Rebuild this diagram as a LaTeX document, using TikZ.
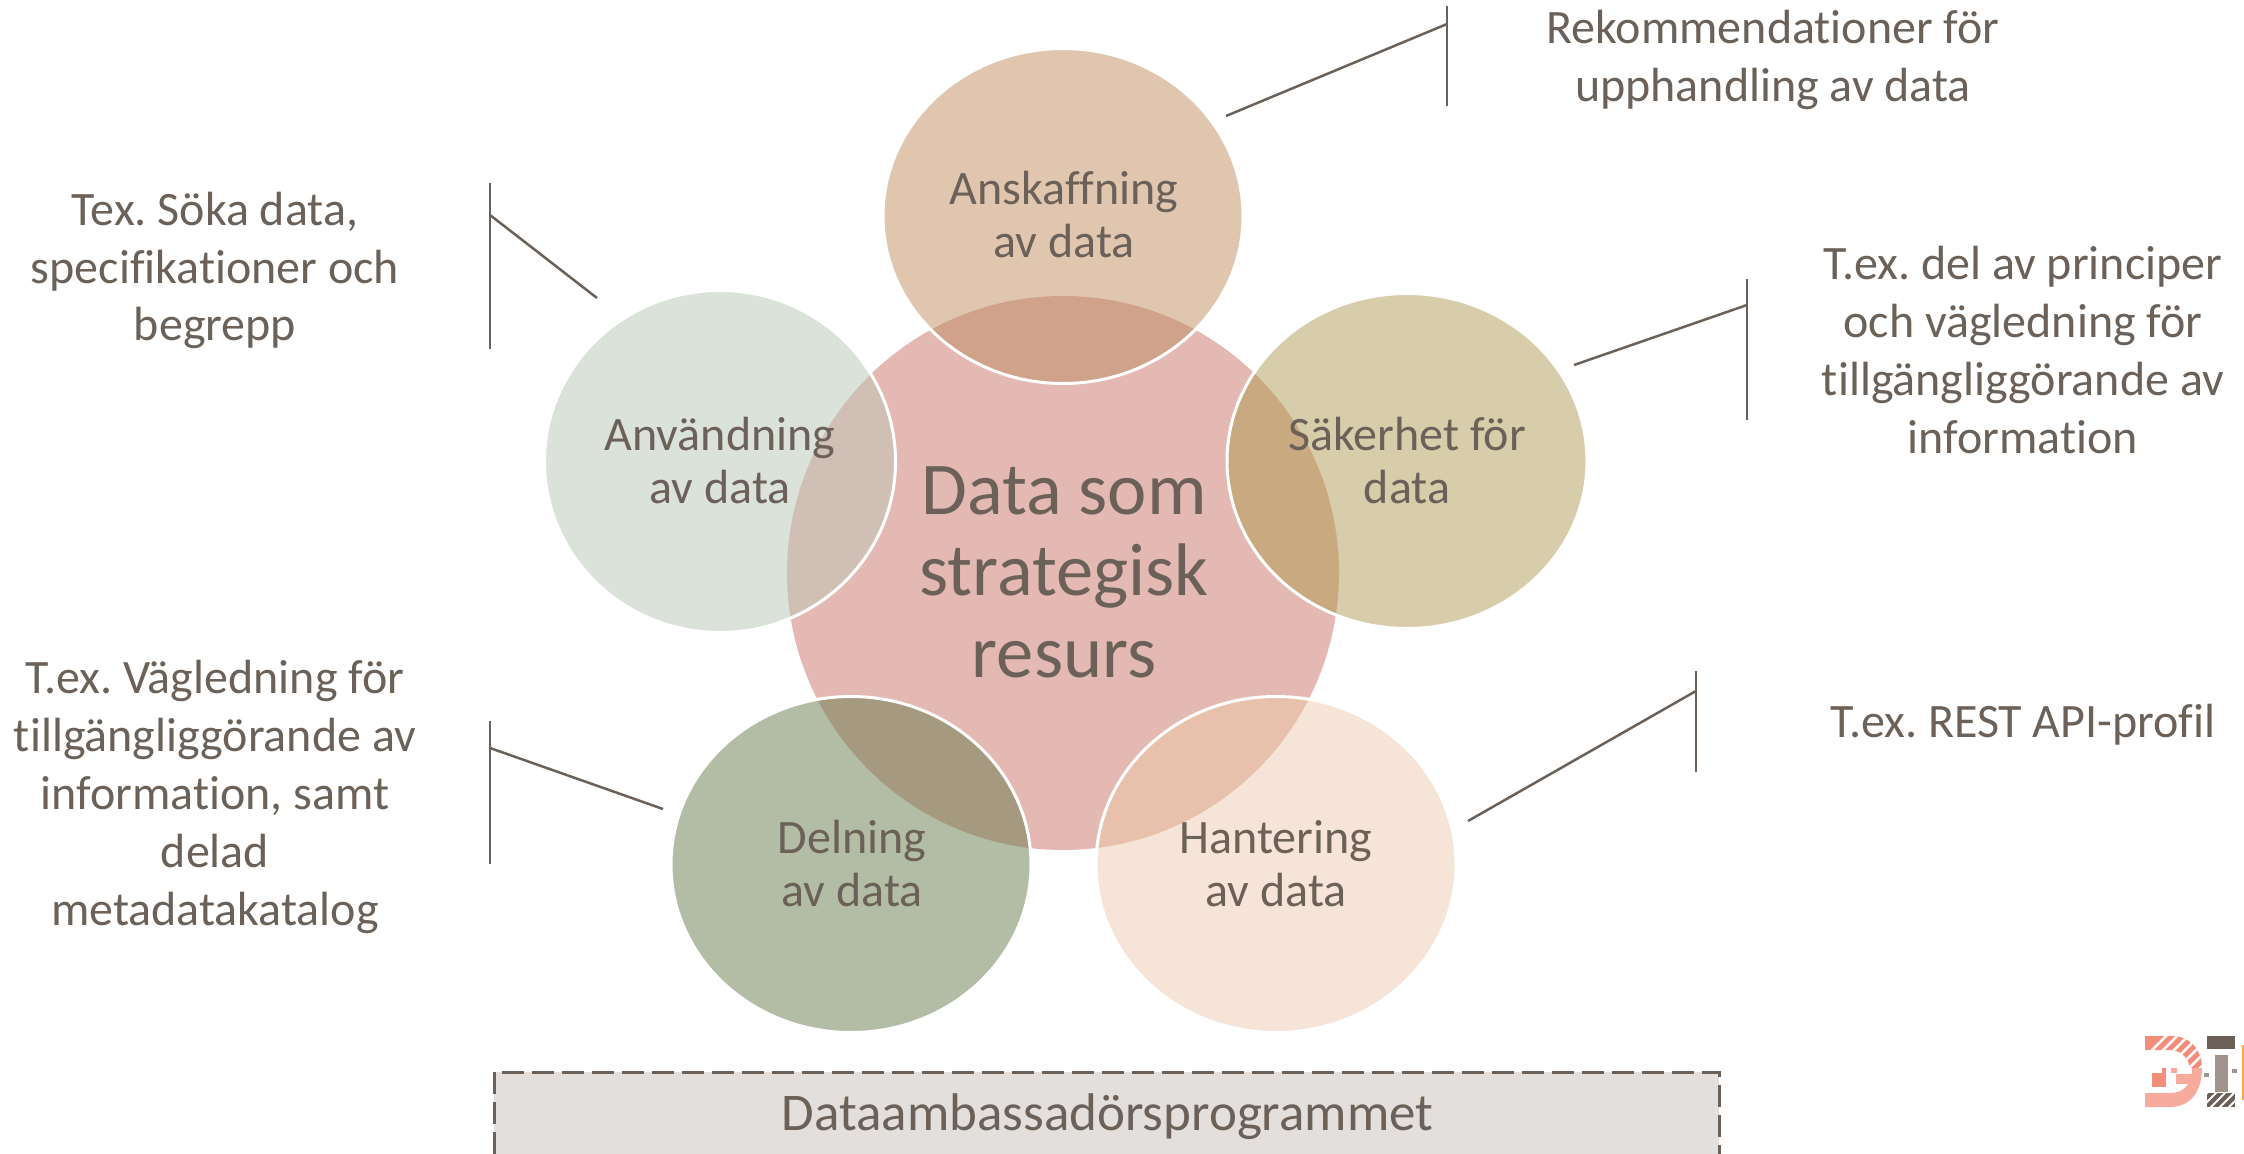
\documentclass[tikz,border=0pt]{standalone}
\usepackage{fontspec}
\setmainfont{Carlito}[Ligatures=NoCommon]
\frenchspacing
\definecolor{ink}{HTML}{6B6158}
\definecolor{core}{HTML}{E5B9B3}
\definecolor{boxfill}{HTML}{E2DFDC}
\tikzset{
  lab/.style={text=ink,align=center,inner sep=0pt,font=\fontsize{48}{57.8}\selectfont},
  petallab/.style={text=ink,align=center,inner sep=0pt,font=\fontsize{48}{53}\selectfont},
  corelab/.style={text=ink,align=center,inner sep=0pt,font=\fontsize{74.5}{81.5}\selectfont},
  proglab/.style={text=ink,align=center,inner sep=0pt,font=\fontsize{53}{60}\selectfont},
  lead/.style={draw=ink,line width=2.5pt},
}
\newcommand{\petalshape}[7]{%
  \fill[fill=#6] (#2,#3) ellipse [x radius=#4,y radius=#5];
  \begin{scope}
    \clip (1063,573) ellipse [x radius=276,y radius=277];
    \fill[fill=#7] (#2,#3) ellipse [x radius=#4,y radius=#5];
  \end{scope}
  \draw[white,line width=3pt] (#2,#3) ellipse [x radius=#4,y radius=#5];
  \coordinate (#1) at (#2,#3);
}
\begin{document}
\begin{tikzpicture}[x=1pt,y=-1pt]
\useasboundingbox (0,0) rectangle (2244,1154);
\definecolor{pa}{HTML}{E0C6AF}\definecolor{pao}{HTML}{D0A28A}
\definecolor{pb}{HTML}{DBE2DA}\definecolor{pbo}{HTML}{CFBFB4}
\definecolor{pc}{HTML}{D7CDAA}\definecolor{pco}{HTML}{C9AA80}
\definecolor{pd}{HTML}{B3BDA6}\definecolor{pdo}{HTML}{A59A80}
\definecolor{pe}{HTML}{F5E4D7}\definecolor{peo}{HTML}{E8C1AC}
% centre
\fill[core] (1063,573) ellipse [x radius=276,y radius=277];
\petalshape{pA}{1063}{216}{180}{167.5}{pa}{pao}
\petalshape{pB}{720}{461.5}{175.5}{171}{pb}{pbo}
\petalshape{pC}{1407}{461}{180}{167.5}{pc}{pco}
\petalshape{pD}{851}{864.5}{180}{168}{pd}{pdo}
\petalshape{pE}{1276}{864.5}{180}{168}{pe}{peo}
\node[corelab] (core) at (1064,572) {Data som\\strategisk\\resurs};
\node[petallab] (anskaffning) at (1064,214.5) {Anskaffning\\av data};
\node[petallab] (anvandning) at (720,460.5) {Användning\\av data};
\node[petallab] (sakerhet) at (1407,460.5) {Säkerhet för\\data};
\node[petallab] (delning) at (852,863.5) {Delning\\av data};
\node[petallab] (hantering) at (1276,863.5) {Hantering\\av data};
% side labels
\node[lab] (t1) at (1773,60) {Rekommendationer för\\upphandling av data};
\node[lab] (t2) at (215,270.5) {Tex. Söka data,\\specifikationer och\\begrepp};
\node[lab] (t3) at (2023,350) {T.ex. del av principer\\och vägledning för\\tillgängliggörande av\\information};
\node[lab] (t4) at (215,797) {T.ex. Vägledning för\\tillgängliggörande av\\information, samt\\delad\\metadatakatalog};
\node[lab] (t5) at (2023,725) {T.ex. REST API-profil};
% leaders
\coordinate (a1) at (1226,116); \coordinate (a2) at (1447,24); \coordinate (a3) at (1447,6); \coordinate (a4) at (1447,106);
\draw[lead] (a1) -- (a2); \draw[lead] (a3) -- (a4);
\coordinate (b1) at (597,298); \coordinate (b2) at (490,215); \coordinate (b3) at (490,183); \coordinate (b4) at (490,349);
\draw[lead] (b1) -- (b2); \draw[lead] (b3) -- (b4);
\coordinate (c1) at (1574,365); \coordinate (c2) at (1747,305); \coordinate (c3) at (1747,279); \coordinate (c4) at (1747,420);
\draw[lead] (c1) -- (c2); \draw[lead] (c3) -- (c4);
\coordinate (d1) at (663,809); \coordinate (d2) at (490,748); \coordinate (d3) at (490,721); \coordinate (d4) at (490,864);
\draw[lead] (d1) -- (d2); \draw[lead] (d3) -- (d4);
\coordinate (e1) at (1468,821); \coordinate (e2) at (1696,691); \coordinate (e3) at (1696,671); \coordinate (e4) at (1696,772);
\draw[lead] (e1) -- (e2); \draw[lead] (e3) -- (e4);
% programme box
\fill[boxfill] (494,1072) rectangle (1719,1160);
\draw[ink,line width=3pt,dash pattern=on 22pt off 8pt] (494,1154) -- (494,1072) -- (1719,1072) -- (1719,1154);
\node[proglab] (prog) at (1107.5,1117) {Dataambassadörsprogrammet};
% logo
\definecolor{lgA}{HTML}{F7AB9D}\definecolor{lgB}{HTML}{F58D7C}\definecolor{lgC}{HTML}{6B5F57}\definecolor{lgD}{HTML}{A0938D}
\begin{scope}
  \clip (2145,1036) -- (2172,1036) .. controls (2190,1036) and (2202,1050) .. (2202,1068) -- (2190,1068) .. controls (2188,1057) and (2180,1050) .. (2170,1050) -- (2145,1050) -- cycle;
  \fill[lgB] (2140,1030) rectangle (2206,1072);
  \foreach \k in {0,11,...,88} {\draw[white,line width=2.5pt] (2130+\k,1072) -- (2172+\k,1030);}
\end{scope}
\fill[lgA] (2192,1068) -- (2202,1068) .. controls (2202,1092) and (2190,1107) .. (2170,1107) -- (2145,1107) -- (2145,1093) -- (2170,1093) .. controls (2184,1093) and (2192,1084) .. (2192,1068) -- cycle;
\fill[lgA] (2176,1074) rectangle (2192,1084);
\fill[lgA] (2171,1068) rectangle (2177,1073);
\fill[lgB] (2152,1073) rectangle (2166,1087);
\fill[lgB] (2162,1068) rectangle (2166,1073);
\fill[lgC] (2207,1036) rectangle (2235,1049);
\fill[lgD] (2215,1055) rectangle (2228,1092);
\fill[lgD] (2204,1073) rectangle (2209,1077);
\fill[lgD] (2232,1069) rectangle (2237,1073);
\begin{scope}
  \clip (2207,1093) rectangle (2235,1107);
  \fill[lgC] (2207,1093) rectangle (2235,1107);
  \foreach \k in {0,9,...,54} {\draw[white,line width=2pt] (2190+\k,1110) -- (2210+\k,1090);}
\end{scope}
\fill[orange!70!white] (2242,1045) rectangle (2244,1100);
\end{tikzpicture}
\end{document}
